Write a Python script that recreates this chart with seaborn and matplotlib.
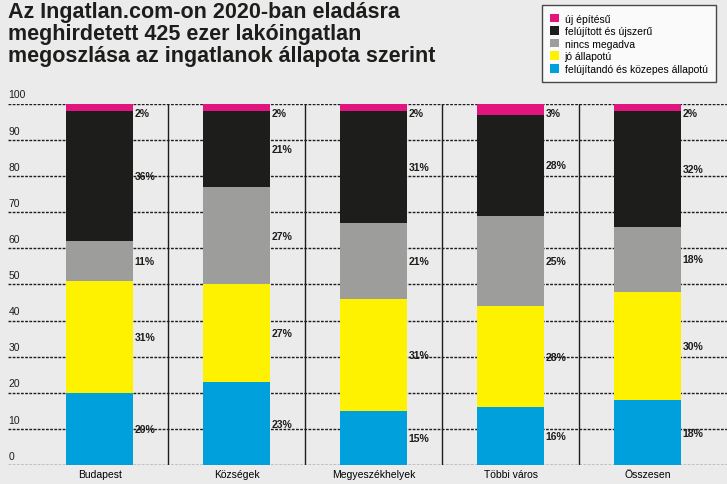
import numpy as np
import pandas as pd
import matplotlib
matplotlib.use("Agg")
import matplotlib.pyplot as plt
import seaborn as sns

categories = ["Budapest", "Községek", "Megyeszékhelyek", "Többi város", "Összesen"]
series = ["felújítandó és közepes állapotú", "jó állapotú", "nincs megadva",
          "felújított és újszerű", "új építésű"]
felujitando = [20, 23, 15, 16, 18]
jo = [31, 27, 31, 28, 30]
nincs = [11, 27, 21, 25, 18]
felujitott = [36, 21, 31, 28, 32]
uj = [2, 2, 2, 3, 2]
colors = ["#00a0dc", "#fff200", "#9d9d9c", "#1d1d1b", "#e2157f"]

vals = [felujitando, jo, nincs, felujitott, uj]
bg = "#ecebeb"
plt.rcParams["font.family"] = "Liberation Sans"
fig = plt.figure(figsize=(7.27, 4.85), dpi=100, facecolor=bg)
ax = fig.add_axes([0.011, 0.039, 0.989, 0.745])
ax.set_facecolor(bg)

x = np.arange(len(categories))
bottom = np.zeros(len(categories))
for name, v, c in zip(series, vals, colors):
    df = pd.DataFrame({"cat": categories, "val": v})
    ax.bar(x, v, bottom=bottom, width=0.49, color=c, zorder=3, label=name)
    top = bottom + np.array(v)
    for xi, b, t, val in zip(x, bottom, top, v):
        ymid = (b + t) / 2 if val > 3 else t - 2.5
        ax.text(xi + 0.255, ymid, f"{val}%", fontsize=7.5, fontweight="bold",
                va="center", ha="left", color="#1d1d1b", zorder=4)
    bottom = top

for yv in range(0, 101, 10):
    ax.axhline(yv, color="#1d1d1b", lw=1, ls=(0, (2, 1)), zorder=1)
    ax.text(-0.665, yv + 1.2, str(yv), fontsize=7.5, color="#1d1d1b", va="bottom", ha="left")
for xs in x[:-1] + 0.5:
    ax.axvline(xs, color="#1d1d1b", lw=1, zorder=1)

ax.set_xlim(-0.67, 4.58)
ax.set_ylim(0, 100)
ax.set_xticks(x)
ax.set_xticklabels(categories, fontsize=7.5)
ax.tick_params(axis="x", length=0, pad=3)
ax.set_yticks([])
sns.despine(ax=ax, left=True, bottom=True)

fig.text(0.011, 0.995, "Az Ingatlan.com-on 2020-ban eladásra\nmeghirdetett 425 ezer lakóingatlan\nmegoszlása az ingatlanok állapota szerint",
         fontsize=15.5, fontweight="bold", va="top", ha="left", linespacing=1.05, color="#1d1d1b")

handles, labels = ax.get_legend_handles_labels()
leg = fig.legend(handles[::-1], labels[::-1], loc="upper right", bbox_to_anchor=(0.992, 0.998),
                 fontsize=7.5, frameon=True, fancybox=False, edgecolor="#1d1d1b",
                 handlelength=0.9, handleheight=0.9, handletextpad=0.5, labelspacing=0.25,
                 borderpad=0.8)
leg.get_frame().set_facecolor("white")
leg.get_frame().set_linewidth(1)

fig.savefig("out.png", dpi=100, facecolor=bg)
